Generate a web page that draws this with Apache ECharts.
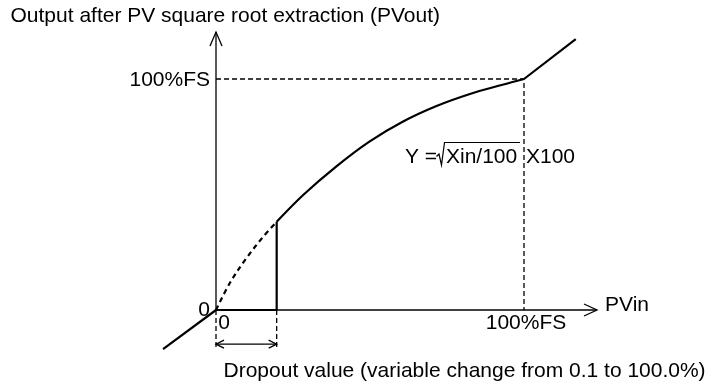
<!DOCTYPE html>
<html>
<head>
<meta charset="utf-8">
<script src="https://cdn.jsdelivr.net/npm/echarts@6/dist/echarts.min.js"></script>
<style>
  html, body { margin: 0; padding: 0; background: #fff; }
  #chart { width: 715px; height: 385px; }
</style>
</head>
<body>
<div id="chart"></div>
<script>
// All values are percent of full scale (input on x, output on y).
const xTickValues = [0, 100];
const xTickLabels = ['0', '100%FS'];
const yTickValues = [0, 100];
const yTickLabels = ['0', '100%FS'];

// Dropout point: below it the output is forced to 0.
const dropout = 19.7;
const dropoutOutput = 38.2;

// Square-root characteristic above the dropout (solid)
const rootCurve = [[19.7, 38.2], [28.3, 49.8], [39.1, 62.2], [49.8, 72.9], [60.6, 81.5],
                   [71.4, 88.2], [82.2, 93.4], [93.0, 97.5], [100, 100]];
// Same characteristic below the dropout (suppressed, dashed)
const suppressedCurve = [[0, 0], [4.5, 11.7], [9.9, 22.5], [15.2, 31.5], [19.7, 38.2]];
// Linear continuation outside 0..100%FS
const belowZero = [[-17.2, -16.9], [0, 0]];
const aboveFull = [[100, 100], [116.8, 117.3]];

// Axis extents and the dropout span marker
const xAxisEnd = 123.7;
const yAxisEnd = 120.3;
const guideDepth = -17.3;
const spanLevel = -14.8;

const FONT = '"Liberation Sans", Arial, sans-serif';
const FS = 21;
const BLACK = '#000';

const chart = echarts.init(document.getElementById('chart'), null, { renderer: 'canvas' });

function lineSeries(data, width, dashed) {
  return {
    type: 'line', data, symbol: 'none', silent: true, clip: false,
    lineStyle: { color: BLACK, width, type: dashed ? dashed : 'solid' }
  };
}

function smoothSeries(data, width, dashed) {
  return Object.assign(lineSeries(data, width, dashed), { smooth: 0.35 });
}

const arrowTips = [[xAxisEnd, 0], [0, yAxisEnd], [0, spanLevel], [dropout, spanLevel]];
const arrowDirs = ['right', 'up', 'left', 'right'];
const arrowSize = [[13, 6], [14, 6], [8, 4], [8, 4]];

const xLabelShift = [8, 2];
const yLabelShift = [0, 1.7];

const option = {
  animation: false,
  grid: { left: 123.6, right: 98.6, top: 9.7, bottom: 5.7, containLabel: false },
  xAxis: { type: 'value', min: -30, max: 130, show: false },
  yAxis: { type: 'value', min: -30, max: 130, show: false },
  series: [
    // axes
    lineSeries([[0, 0], [xAxisEnd, 0]], 1.3),
    lineSeries([[0, 0], [0, yAxisEnd]], 1.3),
    // full-scale guides
    lineSeries([[0, yTickValues[1]], [xTickValues[1], yTickValues[1]], [xTickValues[1], 0]], 1.3, [5, 3]),
    // dropout span guides
    lineSeries([[0, 0], [0, guideDepth]], 1.3, [5, 3]),
    lineSeries([[dropout, 0], [dropout, guideDepth]], 1.3, [5, 3]),
    lineSeries([[0, spanLevel], [dropout, spanLevel]], 1.3),
    // output held at 0 below the dropout, then the step up
    lineSeries([[0, 0], [dropout, 0], [dropout, dropoutOutput]], 2.2),
    smoothSeries(suppressedCurve, 2.2, [5, 4]),
    smoothSeries(rootCurve, 2.2),
    lineSeries(belowZero, 2.2),
    lineSeries(aboveFull, 2.2),
    // arrow heads
    {
      type: 'custom', silent: true, clip: false,
      data: arrowTips,
      renderItem(params, api) {
        const i = params.dataIndex;
        const p = api.coord([api.value(0), api.value(1)]);
        const tx = p[0], ty = p[1];
        const len = arrowSize[i][0], half = arrowSize[i][1];
        let pts;
        if (arrowDirs[i] === 'right') pts = [[tx - len, ty - half], [tx, ty], [tx - len, ty + half]];
        else if (arrowDirs[i] === 'left') pts = [[tx + len, ty - half], [tx, ty], [tx + len, ty + half]];
        else pts = [[tx - half, ty + len], [tx, ty], [tx + half, ty + len]];
        return { type: 'polyline', shape: { points: pts },
                 style: { stroke: BLACK, lineWidth: 1.3, fill: null } };
      }
    },
    // x tick labels
    {
      type: 'custom', silent: true, clip: false,
      data: xTickValues.map((v, i) => [v, 0, xTickLabels[i]]),
      renderItem(params, api) {
        const i = params.dataIndex;
        const p = api.coord([api.value(0), api.value(1)]);
        return { type: 'text', x: p[0] + xLabelShift[i], y: p[1] + 13,
                 style: { text: xTickLabels[i], fill: BLACK, font: FS + 'px ' + FONT,
                          align: 'center', verticalAlign: 'middle' } };
      }
    },
    // y tick labels
    {
      type: 'custom', silent: true, clip: false,
      data: yTickValues.map((v, i) => [0, v, yTickLabels[i]]),
      renderItem(params, api) {
        const i = params.dataIndex;
        const p = api.coord([api.value(0), api.value(1)]);
        return { type: 'text', x: p[0] - 6, y: p[1] + yLabelShift[i],
                 style: { text: yTickLabels[i], fill: BLACK, font: FS + 'px ' + FONT,
                          align: 'right', verticalAlign: 'middle' } };
      }
    },
    // input axis name
    {
      type: 'custom', silent: true, clip: false,
      data: [[xAxisEnd, 0]],
      renderItem(params, api) {
        const p = api.coord([api.value(0), api.value(1)]);
        return { type: 'text', x: p[0] + 8, y: p[1] - 4.5,
                 style: { text: 'PVin', fill: BLACK, font: FS + 'px ' + FONT,
                          align: 'left', verticalAlign: 'middle' } };
      }
    }
  ],
  graphic: [
    { type: 'text', left: 10.5, top: 16.7 - FS / 2,
      style: { text: 'Output after PV square root extraction (PVout)', fill: BLACK,
               font: FS + 'px ' + FONT } },
    { type: 'text', left: 223.5, top: 371.2 - FS / 2,
      style: { text: 'Dropout value (variable change from 0.1 to 100.0%)', fill: BLACK,
               font: FS + 'px ' + FONT } },
    // formula: Y = √(Xin/100) X100
    { type: 'text', x: 405, y: 157.3,
      style: { text: 'Y =', fill: BLACK, font: FS + 'px ' + FONT, align: 'left', verticalAlign: 'middle' } },
    { type: 'polyline',
      shape: { points: [[436.5, 156.5], [439, 154], [441.5, 165], [444.5, 142.5], [520, 142.5]] },
      style: { stroke: BLACK, lineWidth: 1.2, fill: null } },
    { type: 'text', x: 446, y: 157.3,
      style: { text: 'Xin/100', fill: BLACK, font: FS + 'px ' + FONT, align: 'left', verticalAlign: 'middle' } },
    { type: 'text', x: 526, y: 157.3,
      style: { text: 'X100', fill: BLACK, font: FS + 'px ' + FONT, align: 'left', verticalAlign: 'middle' } }
  ]
};

chart.setOption(option);
</script>
</body>
</html>
